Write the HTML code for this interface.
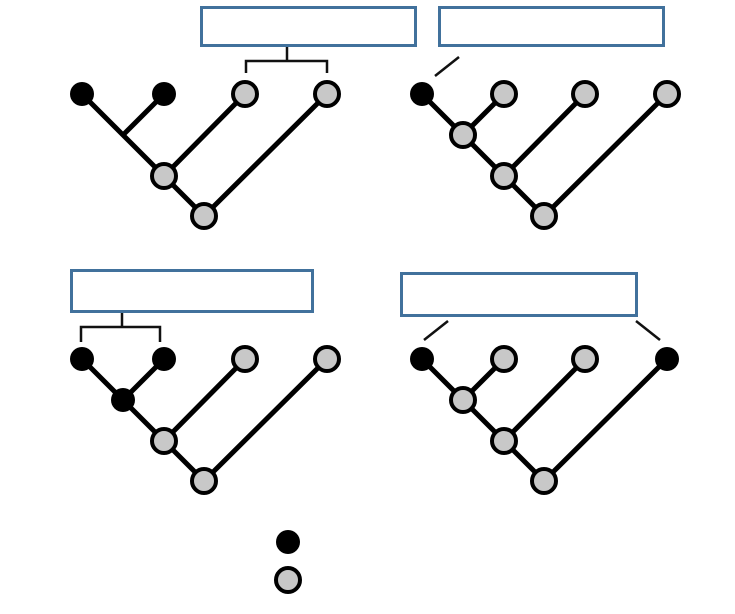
<!DOCTYPE html>
<html><head><style>html,body{margin:0;padding:0;background:#fff}svg{display:block}</style></head>
<body>
<svg width="735" height="614" viewBox="0 0 735 614" xmlns="http://www.w3.org/2000/svg">
<g fill="#fff" stroke="#41719c" stroke-width="3">
<rect x="201.5" y="7.5" width="214" height="38"/>
<rect x="439.5" y="7.5" width="224" height="38"/>
<rect x="71.5" y="270.5" width="241" height="41"/>
<rect x="401.5" y="273.5" width="235" height="42"/>
</g>
<g fill="none" stroke="#111" stroke-width="2.5">
<polyline points="287,47 287,61"/><polyline points="246,73 246,61 327,61 327,73"/>
<polyline points="122,313 122,327"/><polyline points="81,342 81,327 160,327 160,342"/>
<line x1="435" y1="76" x2="459" y2="57"/>
<line x1="424" y1="340" x2="448" y2="321"/>
<line x1="636" y1="321" x2="660" y2="340"/>
</g>
<g stroke="#000" stroke-width="5" stroke-linecap="round" fill="none">
<!-- tree1 -->
<path d="M82,94 L204,216 L327,94 M164,94 L123,135 M245,94 L164,176"/>
<!-- tree2 -->
<path d="M422,94 L544,216 L667,94 M504,94 L463,135 M585,94 L504,176"/>
<!-- tree3 -->
<path d="M82,359 L204,481 L327,359 M164,359 L123,400 M245,359 L164,441"/>
<!-- tree4 -->
<path d="M422,359 L544,481 L667,359 M504,359 L463,400 M585,359 L504,441"/>
</g>
<g fill="#000">
<circle cx="82" cy="94" r="12"/><circle cx="164" cy="94" r="12"/>
<circle cx="422" cy="94" r="12"/>
<circle cx="82" cy="359" r="12"/><circle cx="164" cy="359" r="12"/><circle cx="123" cy="400" r="12"/>
<circle cx="422" cy="359" r="12"/><circle cx="667" cy="359" r="12"/>
<circle cx="288" cy="542" r="12"/>
</g>
<g fill="#c8c8c8" stroke="#000" stroke-width="4">
<circle cx="245" cy="94" r="12"/><circle cx="327" cy="94" r="12"/><circle cx="164" cy="176" r="12"/><circle cx="204" cy="216" r="12"/>
<circle cx="504" cy="94" r="12"/><circle cx="585" cy="94" r="12"/><circle cx="667" cy="94" r="12"/><circle cx="463" cy="135" r="12"/><circle cx="504" cy="176" r="12"/><circle cx="544" cy="216" r="12"/>
<circle cx="245" cy="359" r="12"/><circle cx="327" cy="359" r="12"/><circle cx="164" cy="441" r="12"/><circle cx="204" cy="481" r="12"/>
<circle cx="504" cy="359" r="12"/><circle cx="585" cy="359" r="12"/><circle cx="463" cy="400" r="12"/><circle cx="504" cy="441" r="12"/><circle cx="544" cy="481" r="12"/>
<circle cx="288" cy="580" r="12"/>
</g>
</svg>
</body></html>
